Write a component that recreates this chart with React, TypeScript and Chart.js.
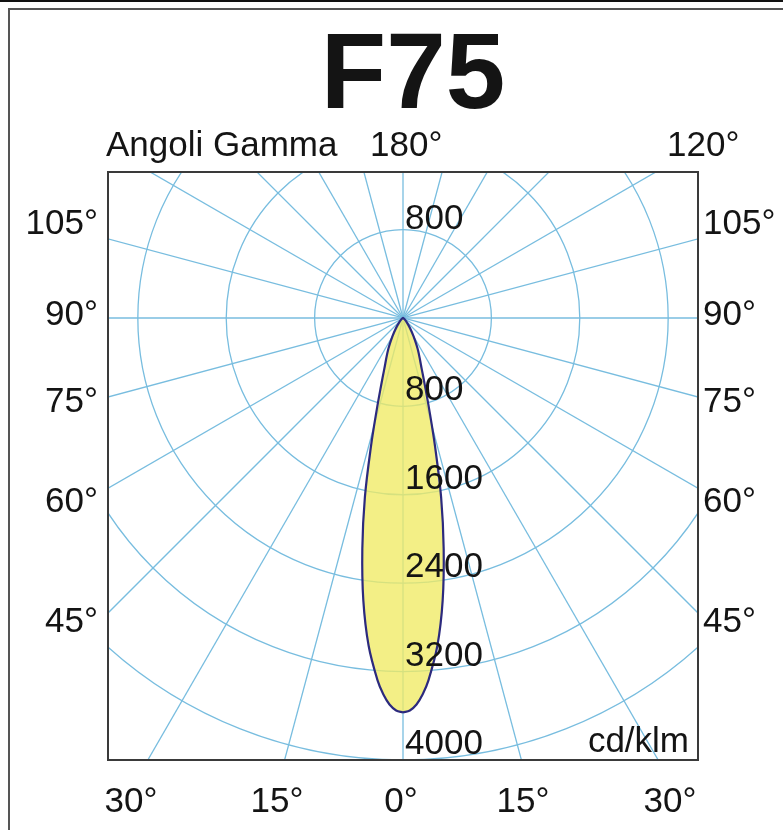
import React, { useEffect, useRef } from "react";
import { Chart, registerables } from "chart.js";

Chart.register(...registerables);

// ---- data ----
const chartTitle = "F75";
const gammaCaption = "Angoli Gamma";
const unitCaption = "cd/klm";
const gammaAngles = [0, 1, 2, 3, 4, 6, 8, 10, 12, 14, 16, 18, 20, 25, 30, 35, 40, 50, 60, 75, 90];
const intensities = [3570, 3552, 3500, 3410, 3290, 2980, 2580, 2120, 1660, 1200, 860, 640, 500, 320, 190, 110, 60, 20, 5, 0, 0];
const ringValues = [800, 1600, 2400, 3200, 4000, 4800];
const ringLabels = ["800", "1600", "2400", "3200", "4000"];
const upperRingLabel = "800";
const spokeAngles = [0, 15, 30, 45, 60, 75, 90, 105, 120, 135, 150, 165, 180, 195, 210, 225, 240, 255, 270, 285, 300, 315, 330, 345];
const sideLabels = ["105°", "90°", "75°", "60°", "45°"];
const topLabels = ["180°", "120°"];
const bottomLabels = ["30°", "15°", "0°", "15°", "30°"];

// ---- styling / layout constants ----
const W = 783;
const H = 830;
const FONT = '"Liberation Sans", Arial, Helvetica, sans-serif';
const GRID = "#78bddf";
const TEXT = "#141414";
const sideBaselines = [234, 325, 412, 512, 632];
const bottomCenters = [131, 277, 401, 523, 670];

function buildShape() {
  const pts: { x: number; y: number }[] = [];
  for (let i = 0; i < gammaAngles.length; i++) {
    const g = (gammaAngles[i] * Math.PI) / 180;
    pts.push({ x: intensities[i] * Math.sin(g), y: -intensities[i] * Math.cos(g) });
  }
  for (let i = gammaAngles.length - 1; i >= 0; i--) {
    const g = (gammaAngles[i] * Math.PI) / 180;
    pts.push({ x: -intensities[i] * Math.sin(g), y: -intensities[i] * Math.cos(g) });
  }
  return pts.reverse();
}

const polarGrid = {
  id: "polarGrid",
  beforeDatasetsDraw(chart: any) {
    const { ctx, chartArea: a, scales } = chart;
    const xs = scales.x;
    const ys = scales.y;
    const cx = xs.getPixelForValue(0);
    const cy = ys.getPixelForValue(0);
    ctx.save();
    ctx.beginPath();
    ctx.rect(a.left, a.top, a.right - a.left, a.bottom - a.top);
    ctx.clip();
    ctx.strokeStyle = GRID;
    ctx.lineWidth = 1.3;
    for (const v of ringValues) {
      const r = xs.getPixelForValue(v) - cx;
      ctx.beginPath();
      ctx.arc(cx, cy, r, 0, Math.PI * 2);
      ctx.stroke();
    }
    const far = 8000;
    for (const ang of spokeAngles) {
      const g = (ang * Math.PI) / 180;
      const ex = xs.getPixelForValue(far * Math.sin(g));
      const ey = ys.getPixelForValue(-far * Math.cos(g));
      ctx.beginPath();
      ctx.moveTo(cx, cy);
      ctx.lineTo(ex, ey);
      ctx.stroke();
    }
    ctx.restore();
  },
  afterDraw(chart: any) {
    const { ctx, chartArea: a, scales } = chart;
    const xs = scales.x;
    const ys = scales.y;
    const cx = xs.getPixelForValue(0);
    ctx.save();
    // box
    ctx.strokeStyle = "#3a3a3a";
    ctx.lineWidth = 2;
    ctx.strokeRect(a.left, a.top, a.right - a.left, a.bottom - a.top);

    ctx.fillStyle = TEXT;
    ctx.textBaseline = "alphabetic";
    // title
    ctx.font = `bold 107px ${FONT}`;
    ctx.textAlign = "center";
    ctx.fillText(chartTitle, 413, 108);

    ctx.font = `35px ${FONT}`;
    ctx.textAlign = "left";
    ctx.fillText(gammaCaption, 106, 156);
    ctx.fillText(topLabels[0], 370, 156);
    ctx.fillText(topLabels[1], 667, 156);

    // side labels
    sideLabels.forEach((t, i) => {
      ctx.textAlign = "right";
      ctx.fillText(t, 98, sideBaselines[i]);
      ctx.textAlign = "left";
      ctx.fillText(t, 703, sideBaselines[i]);
    });

    // bottom labels
    ctx.textAlign = "center";
    bottomLabels.forEach((t, i) => ctx.fillText(t, bottomCenters[i], 812));

    // ring labels
    ctx.textAlign = "left";
    ringLabels.forEach((t, i) => {
      ctx.fillText(t, cx + 2, ys.getPixelForValue(-ringValues[i]) - 6);
    });
    ctx.fillText(upperRingLabel, cx + 2, ys.getPixelForValue(ringValues[0]) - 1);

    ctx.textAlign = "right";
    ctx.fillText(unitCaption, a.right - 9, 752);
    ctx.restore();
  },
};

export default function App() {
  const ref = useRef<HTMLCanvasElement | null>(null);
  useEffect(() => {
    if (!ref.current) return;
    const chart = new Chart(ref.current, {
      type: "scatter",
      data: {
        datasets: [
          {
            data: buildShape(),
            showLine: true,
            fill: "shape" as any,
            backgroundColor: "rgba(239,235,100,0.78)",
            borderColor: "#2c2a7e",
            borderWidth: 2.2,
            tension: 0.35,
            pointRadius: 0,
          },
        ],
      },
      options: {
        responsive: false,
        animation: false,
        devicePixelRatio: 1,
        layout: { padding: { left: 108, top: 172, right: 85, bottom: 70 } },
        plugins: { legend: { display: false }, tooltip: { enabled: false }, title: { display: false } },
        scales: {
          x: { type: "linear", min: -2670, max: 2670, display: false },
          y: { type: "linear", min: -4000, max: 1321, display: false },
        },
      },
      plugins: [polarGrid],
    });
    return () => chart.destroy();
  }, []);

  return (
    <div style={{ position: "fixed", left: 0, top: 0, width: W, height: H, overflow: "hidden", background: "#fff" }}>
      <div style={{ position: "absolute", left: 0, top: 0, width: W, height: 2, background: "#111" }} />
      <div
        style={{
          position: "absolute",
          left: 8,
          top: 8,
          width: W + 50,
          height: H + 50,
          borderLeft: "2px solid #555",
          borderTop: "2px solid #555",
        }}
      />
      <canvas ref={ref} width={W} height={H} style={{ position: "absolute", left: 0, top: 0 }} />
    </div>
  );
}
